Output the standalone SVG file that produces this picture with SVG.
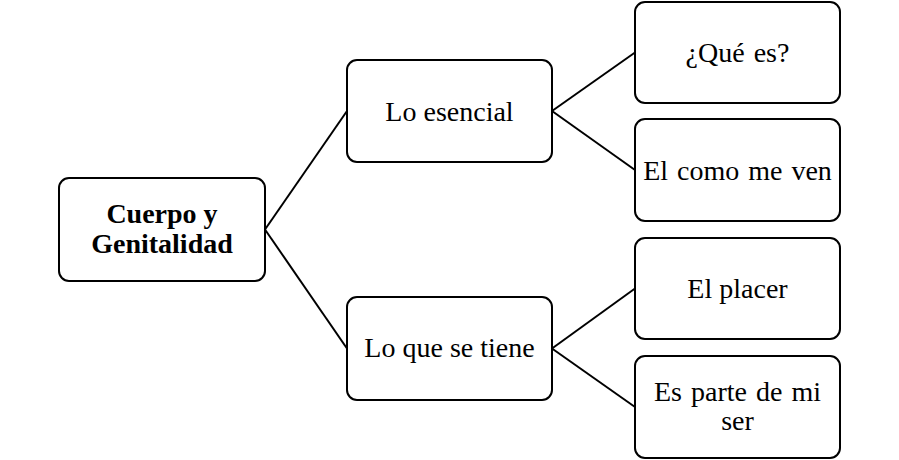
<svg xmlns="http://www.w3.org/2000/svg" width="899" height="460" viewBox="0 0 899 460">
<style>
.box{fill:#fff;stroke:#000;stroke-width:2}
.t{font-family:"Liberation Serif","Times New Roman",serif;font-size:28px;fill:#000;text-anchor:middle}
.b{font-weight:bold}
.w{word-spacing:2px}
.c{stroke:#000;stroke-width:2;fill:none}
</style>
<rect width="899" height="460" fill="#fff"/>
<g id="connectors">
<line class="c" x1="265" y1="229.5" x2="347" y2="111"/>
<line class="c" x1="265" y1="229.5" x2="347" y2="348.5"/>
<line class="c" x1="552" y1="111" x2="635" y2="52.5"/>
<line class="c" x1="552" y1="111" x2="635" y2="170"/>
<line class="c" x1="552" y1="348.5" x2="635" y2="288.5"/>
<line class="c" x1="552" y1="348.5" x2="635" y2="407"/>
</g>
<g id="root">
<rect class="box" x="59" y="178" width="206" height="103" rx="10"/>
<text class="t b" x="162" y="223">Cuerpo y</text>
<text class="t b" x="162" y="253">Genitalidad</text>
</g>
<g id="esencial">
<rect class="box" x="347" y="60" width="205" height="102" rx="10"/>
<text class="t" x="449.5" y="121">Lo esencial</text>
</g>
<g id="tiene">
<rect class="box" x="347" y="297" width="205" height="103" rx="10"/>
<text class="t" x="449.5" y="357">Lo que se tiene</text>
</g>
<g id="quees">
<rect class="box" x="635" y="2" width="205" height="101" rx="10"/>
<text class="t w" x="737.5" y="62">¿Qué es?</text>
</g>
<g id="comoven">
<rect class="box" x="635" y="119" width="205" height="102" rx="10"/>
<text class="t w" x="737.5" y="180">El como me ven</text>
</g>
<g id="placer">
<rect class="box" x="635" y="238" width="205" height="101" rx="10"/>
<text class="t" x="737.5" y="298">El placer</text>
</g>
<g id="parte">
<rect class="box" x="635" y="356" width="205" height="102" rx="10"/>
<text class="t w" x="737.5" y="401">Es parte de mi</text>
<text class="t" x="737.5" y="430">ser</text>
</g>
</svg>
